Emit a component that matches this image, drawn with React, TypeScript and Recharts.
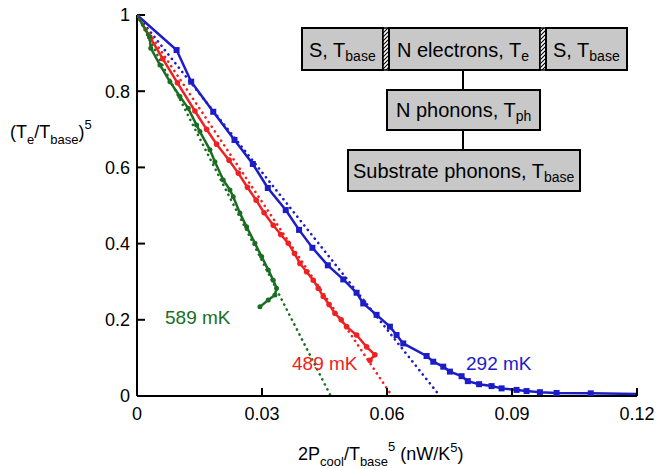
import React from 'react';
import { LineChart, Line, XAxis, YAxis } from 'recharts';

// axis ticks
const xTicks = [0, 0.03, 0.06, 0.09, 0.12];
const yTicks = [0, 0.2, 0.4, 0.6, 0.8, 1];

// 292 mK (blue, squares)
const blueX = [0, 0.0095, 0.013, 0.0183, 0.0234, 0.0278, 0.0314, 0.0357, 0.0389, 0.0421, 0.0458, 0.0495, 0.0527, 0.0543, 0.0575, 0.0607, 0.0623, 0.0639, 0.0695, 0.0711, 0.0735, 0.0751, 0.0779, 0.0794, 0.0821, 0.0851, 0.0875, 0.0911, 0.0935, 0.0967, 0.1007, 0.1089, 0.12];
const blueY = [1, 0.908, 0.825, 0.746, 0.672, 0.609, 0.546, 0.488, 0.436, 0.389, 0.343, 0.306, 0.271, 0.243, 0.213, 0.182, 0.16, 0.138, 0.105, 0.09, 0.077, 0.064, 0.052, 0.039, 0.031, 0.026, 0.02, 0.016, 0.013, 0.01, 0.008, 0.007, 0.005];

// 489 mK (red, circles)
const redX = [0, 0.0031, 0.0062, 0.0097, 0.0139, 0.0167, 0.0191, 0.0221, 0.0243, 0.0265, 0.0286, 0.0305, 0.0327, 0.0345, 0.0363, 0.0378, 0.0391, 0.0407, 0.0423, 0.0435, 0.0447, 0.0461, 0.0475, 0.049, 0.0503, 0.0527, 0.0551, 0.0571, 0.0559];
const redY = [1, 0.942, 0.885, 0.822, 0.748, 0.7, 0.661, 0.619, 0.585, 0.548, 0.514, 0.481, 0.448, 0.424, 0.401, 0.374, 0.348, 0.326, 0.304, 0.283, 0.261, 0.24, 0.217, 0.2, 0.182, 0.16, 0.129, 0.108, 0.094];

// 589 mK (green, circles)
const greenX = [0, 0.003, 0.0033, 0.0055, 0.0079, 0.0103, 0.0123, 0.0143, 0.0151, 0.0175, 0.0187, 0.0207, 0.0223, 0.0231, 0.0247, 0.0263, 0.0283, 0.0299, 0.0315, 0.0327, 0.0335, 0.0331, 0.0315, 0.0295];
const greenY = [1, 0.943, 0.913, 0.869, 0.825, 0.786, 0.755, 0.711, 0.694, 0.646, 0.615, 0.567, 0.541, 0.523, 0.48, 0.444, 0.401, 0.366, 0.331, 0.304, 0.283, 0.265, 0.252, 0.234];

// linear fits (dotted)
const fitBlueX = [0, 0.0727];
const fitBlueY = [1, 0];
const fitRedX = [0, 0.0612];
const fitRedY = [1, 0];
const fitGreenX = [0, 0.0465];
const fitGreenY = [1, 0];

const BLUE = '#1c1cc8';
const RED = '#ee2222';
const GREEN = '#1a6e24';

const zip = (xs: number[], ys: number[]) => xs.map((x, i) => ({ x, y: ys[i] }));

const blueData = zip(blueX, blueY);
const redData = zip(redX, redY);
const greenData = zip(greenX, greenY);

const font = 'Liberation Sans, Arial, Helvetica, sans-serif';

const Square = (props: any) => {
  const { cx, cy, index } = props;
  if (index === blueData.length - 1) return <g key={`sq-${index}`} />;
  return <rect key={`sq-${index}`} x={cx - 3} y={cy - 3} width={6} height={6} fill={BLUE} />;
};

const dotted = { strokeWidth: 2.6, strokeDasharray: '0.1 5.5', strokeLinecap: 'round' as const };

function Inset() {
  const box = { fill: '#c8c8c8', stroke: '#000', strokeWidth: 2 };
  const sub = { fontSize: 14 };
  return (
    <svg width={656} height={468} style={{ position: 'absolute', left: 0, top: 0, pointerEvents: 'none' }} fontFamily={font}>
      <defs>
        <pattern id="hatch" width={4} height={4} patternUnits="userSpaceOnUse">
          <rect width={4} height={4} fill="#fff" />
          <path d="M-1,1 L1,-1 M0,4 L4,0 M3,5 L5,3" stroke="#000" strokeWidth={1.1} />
        </pattern>
      </defs>
      {/* connectors */}
      <line x1={463} y1={70} x2={463} y2={90} stroke="#000" strokeWidth={2} />
      <line x1={463} y1={130} x2={463} y2={150} stroke="#000" strokeWidth={2} />
      {/* top row */}
      <rect x={302} y={28} width={81} height={42} {...box} />
      <rect x={383} y={28} width={6} height={42} fill="url(#hatch)" stroke="#000" strokeWidth={1.5} />
      <rect x={389} y={28} width={151} height={42} {...box} />
      <rect x={540} y={28} width={6} height={42} fill="url(#hatch)" stroke="#000" strokeWidth={1.5} />
      <rect x={546} y={28} width={81} height={42} {...box} />
      <rect x={387} y={90} width={153} height={40} {...box} />
      <rect x={348} y={150} width={232} height={41} {...box} />
      <g fontSize={20} fill="#000">
        <text x={309} y={57}>S, T<tspan {...sub} dy={4}>base</tspan></text>
        <text x={397} y={57}>N electrons, T<tspan {...sub} dy={4}>e</tspan></text>
        <text x={553} y={57}>S, T<tspan {...sub} dy={4}>base</tspan></text>
        <text x={396} y={117}>N phonons, T<tspan {...sub} dy={4}>ph</tspan></text>
        <text x={353} y={178}>Substrate phonons, T<tspan {...sub} dy={4}>base</tspan></text>
      </g>
      {/* series labels */}
      <g fontSize={19}>
        <text x={165} y={324} fill={GREEN}>589 mK</text>
        <text x={292} y={370} fill={RED}>489 mK</text>
        <text x={466} y={370} fill={BLUE}>292 mK</text>
      </g>
      {/* axis titles */}
      <g fontSize={18} fill="#000">
        <text x={10} y={138}>(T<tspan fontSize={13} dy={6}>e</tspan><tspan dy={-6}>/T</tspan><tspan fontSize={13} dy={6}>base</tspan><tspan dy={-6}>)</tspan><tspan fontSize={13} dy={-9}>5</tspan></text>
        <text x={298} y={460}>2P<tspan fontSize={13} dy={6}>cool</tspan><tspan dy={-6}>/T</tspan><tspan fontSize={13} dy={6}>base</tspan><tspan fontSize={13} dy={-15}>5</tspan><tspan dy={9}> (nW/K</tspan><tspan fontSize={13} dy={-8}>5</tspan><tspan dy={8}>)</tspan></text>
      </g>
    </svg>
  );
}

export default function App() {
  const tick = { fontSize: 18, fill: '#000', fontFamily: font };
  return (
    <div style={{ position: 'absolute', left: 0, top: 0, width: 656, height: 468, background: '#fff', fontFamily: font }}>
      <LineChart width={656} height={468} margin={{ top: 15, right: 19, bottom: 0, left: 0 }}>
        <XAxis
          xAxisId="b"
          dataKey="x"
          type="number"
          domain={[0, 0.12]}
          ticks={xTicks}
          height={72}
          tick={tick}
          tickSize={-8}
          tickMargin={19}
          axisLine={{ stroke: '#000', strokeWidth: 2 }}
          tickLine={{ stroke: '#000', strokeWidth: 2 }}
          allowDataOverflow
        />
        <XAxis
          xAxisId="t"
          orientation="top"
          dataKey="x"
          type="number"
          domain={[0, 0.12]}
          ticks={xTicks}
          height={0}
          tick={false}
          tickSize={-8}
          axisLine={{ stroke: '#000', strokeWidth: 2 }}
          tickLine={{ stroke: '#000', strokeWidth: 2 }}
          allowDataOverflow
        />
        <YAxis
          yAxisId="l"
          dataKey="y"
          type="number"
          domain={[0, 1]}
          ticks={yTicks}
          width={137}
          tick={tick}
          tickSize={-8}
          tickMargin={15}
          axisLine={{ stroke: '#000', strokeWidth: 2 }}
          tickLine={{ stroke: '#000', strokeWidth: 2 }}
          allowDataOverflow
        />
        <YAxis
          yAxisId="r"
          orientation="right"
          dataKey="y"
          type="number"
          domain={[0, 1]}
          ticks={yTicks}
          width={0}
          tick={false}
          tickSize={-8}
          axisLine={{ stroke: '#000', strokeWidth: 2 }}
          tickLine={{ stroke: '#000', strokeWidth: 2 }}
          allowDataOverflow
        />
        <Line xAxisId="b" yAxisId="l" data={zip(fitBlueX, fitBlueY)} dataKey="y" stroke={BLUE} dot={false} isAnimationActive={false} {...dotted} />
        <Line xAxisId="b" yAxisId="l" data={zip(fitRedX, fitRedY)} dataKey="y" stroke={RED} dot={false} isAnimationActive={false} {...dotted} />
        <Line xAxisId="b" yAxisId="l" data={zip(fitGreenX, fitGreenY)} dataKey="y" stroke={GREEN} dot={false} isAnimationActive={false} {...dotted} />
        <Line xAxisId="b" yAxisId="l" data={blueData} dataKey="y" stroke={BLUE} strokeWidth={2.5} dot={Square} isAnimationActive={false} />
        <Line xAxisId="b" yAxisId="l" data={redData} dataKey="y" stroke={RED} strokeWidth={2.5} dot={{ r: 2.8, fill: RED, stroke: RED, strokeWidth: 0 }} isAnimationActive={false} />
        <Line xAxisId="b" yAxisId="l" data={greenData} dataKey="y" stroke={GREEN} strokeWidth={2.5} dot={{ r: 2.5, fill: GREEN, stroke: GREEN, strokeWidth: 0 }} isAnimationActive={false} />
      </LineChart>
      <Inset />
    </div>
  );
}
